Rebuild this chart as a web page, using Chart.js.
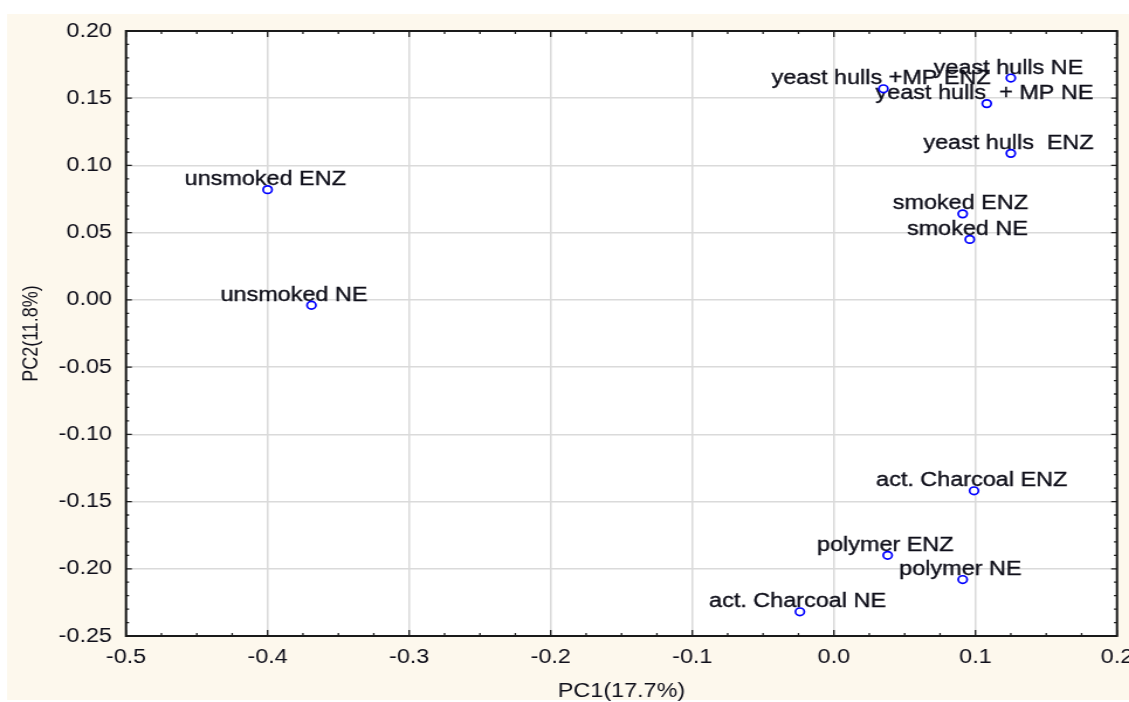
<!DOCTYPE html>
<html>
<head>
<meta charset="utf-8">
<title>PCA score plot</title>
<script src="https://cdn.jsdelivr.net/npm/chart.js@4.4.1/dist/chart.umd.min.js"></script>
<style>
  html, body { margin: 0; padding: 0; background: #ffffff; overflow: hidden; }
  /* the plot is rendered narrow and widened horizontally, like the exported figure */
  #wrap { position: absolute; left: 0; top: 0; width: 965px; height: 702px;
          transform: scaleX(1.17); transform-origin: 0 0; }
  canvas { display: block; }
</style>
</head>
<body>
<div id="wrap"><canvas id="scorePlot" width="965" height="702"></canvas></div>
<script>
// Sample scores on the first two principal components
const sampleNames = [
  'unsmoked ENZ', 'unsmoked NE',
  'yeast hulls +MP ENZ', 'yeast hulls NE', 'yeast hulls  + MP NE', 'yeast hulls  ENZ',
  'smoked ENZ', 'smoked NE',
  'act. Charcoal ENZ', 'polymer ENZ', 'polymer NE', 'act. Charcoal NE'
];
const pc1Scores = [-0.400, -0.369, 0.035, 0.125, 0.108, 0.125, 0.091, 0.096, 0.099, 0.038, 0.091, -0.024];
const pc2Scores = [0.082, -0.004, 0.157, 0.165, 0.146, 0.109, 0.064, 0.045, -0.142, -0.190, -0.208, -0.232];

const xTickValues = [-0.5, -0.4, -0.3, -0.2, -0.1, 0, 0.1, 0.2];
const xTickLabels = ['-0.5', '-0.4', '-0.3', '-0.2', '-0.1', '0.0', '0.1', '0.2'];
const yTickValues = [-0.25, -0.2, -0.15, -0.1, -0.05, 0, 0.05, 0.1, 0.15, 0.2];
const yTickLabels = ['-0.25', '-0.20', '-0.15', '-0.10', '-0.05', '0.00', '0.05', '0.10', '0.15', '0.20'];

const FONT = '"Liberation Sans", Arial, sans-serif';
const TEXT = '#0f0f1a';

// small sideways shifts for crowded labels
const labelNudge = { 1: -13 };

const framePlugin = {
  id: 'frame',
  beforeDraw(chart) {
    const { ctx, chartArea: a } = chart;
    ctx.save();
    ctx.fillStyle = '#fdf8ed';
    ctx.fillRect(6, 14, chart.width - 6, 686);
    ctx.fillStyle = '#ffffff';
    ctx.fillRect(a.left, a.top, a.right - a.left, a.bottom - a.top);
    ctx.restore();
  },
  beforeDatasetsDraw(chart) {
    const { ctx, chartArea: a, scales } = chart;
    const xs = scales.x, ys = scales.y;
    ctx.save();
    // labels sit under the markers
    ctx.font = '20px ' + FONT;
    ctx.fillStyle = TEXT;
    ctx.strokeStyle = TEXT;
    ctx.lineWidth = 0.35;
    ctx.textAlign = 'center';
    ctx.textBaseline = 'middle';
    chart.getDatasetMeta(0).data.forEach((pt, i) => {
      const tx = pt.x - 2 + (labelNudge[i] || 0), ty = pt.y - 10;
      ctx.fillText(sampleNames[i], tx, ty);
      ctx.strokeText(sampleNames[i], tx, ty);
    });

    // inward tick marks on all four sides
    ctx.strokeStyle = '#1e1e1e';
    ctx.lineWidth = 1.3;
    ctx.beginPath();
    for (let k = 0; k <= 28; k++) {
      const px = xs.getPixelForValue(-0.5 + k * 0.025);
      const len = k % 4 === 0 ? 6 : 3;
      ctx.moveTo(px, a.bottom); ctx.lineTo(px, a.bottom - len);
      ctx.moveTo(px, a.top); ctx.lineTo(px, a.top + len);
    }
    for (let k = 0; k <= 45; k++) {
      const py = ys.getPixelForValue(-0.25 + k * 0.01);
      const len = k % 5 === 0 ? 5 : 2.6;
      ctx.moveTo(a.left, py); ctx.lineTo(a.left + len, py);
      ctx.moveTo(a.right, py); ctx.lineTo(a.right - len, py);
    }
    ctx.stroke();

    // plot frame
    ctx.lineWidth = 2;
    ctx.strokeStyle = '#1a1a1a';
    ctx.strokeRect(a.left, a.top, a.right - a.left, a.bottom - a.top);
    ctx.restore();
  }
};

new Chart(document.getElementById('scorePlot'), {
  type: 'scatter',
  data: {
    datasets: [{
      label: 'scores',
      data: pc1Scores.map((x, i) => ({ x: x, y: pc2Scores[i] })),
      pointStyle: 'circle',
      pointRadius: 3.8,
      pointHoverRadius: 3.8,
      borderColor: '#0000ff',
      backgroundColor: '#ffffff',
      borderWidth: 1.7
    }]
  },
  options: {
    responsive: false,
    animation: false,
    devicePixelRatio: 1,
    layout: { padding: { left: 0, right: 10.3, top: 31, bottom: 0 } },
    plugins: { legend: { display: false }, tooltip: { enabled: false } },
    scales: {
      x: {
        type: 'linear',
        min: -0.5, max: 0.2,
        afterBuildTicks: s => { s.ticks = xTickValues.map(v => ({ value: v })); },
        afterFit: s => { s.height = 66; s.paddingLeft = 0; s.paddingRight = 0; },
        ticks: {
          callback: (v, i) => xTickLabels[i],
          font: { family: FONT, size: 20 },
          color: TEXT, padding: 9, maxRotation: 0, autoSkip: false
        },
        grid: { color: '#dadada', lineWidth: 1.5, drawTicks: false },
        border: { display: false },
        title: {
          display: true, text: 'PC1(17.7%)',
          font: { family: FONT, size: 20 }, color: TEXT,
          padding: { top: 0, bottom: -1 }
        }
      },
      y: {
        type: 'linear',
        min: -0.25, max: 0.2,
        afterBuildTicks: s => { s.ticks = yTickValues.map(v => ({ value: v })); },
        afterFit: s => { s.width = 107.7; s.paddingTop = 0; s.paddingBottom = 0; },
        ticks: {
          callback: (v, i) => yTickLabels[i],
          font: { family: FONT, size: 20 },
          color: TEXT, padding: 12, autoSkip: false
        },
        grid: { color: '#dadada', lineWidth: 1.5, drawTicks: false },
        border: { display: false },
        title: {
          display: true, text: 'PC2(11.8%)',
          font: { family: FONT, size: 18 }, color: TEXT,
          padding: { top: 16.6, bottom: 0 }
        }
      }
    }
  },
  plugins: [framePlugin]
});
</script>
</body>
</html>
